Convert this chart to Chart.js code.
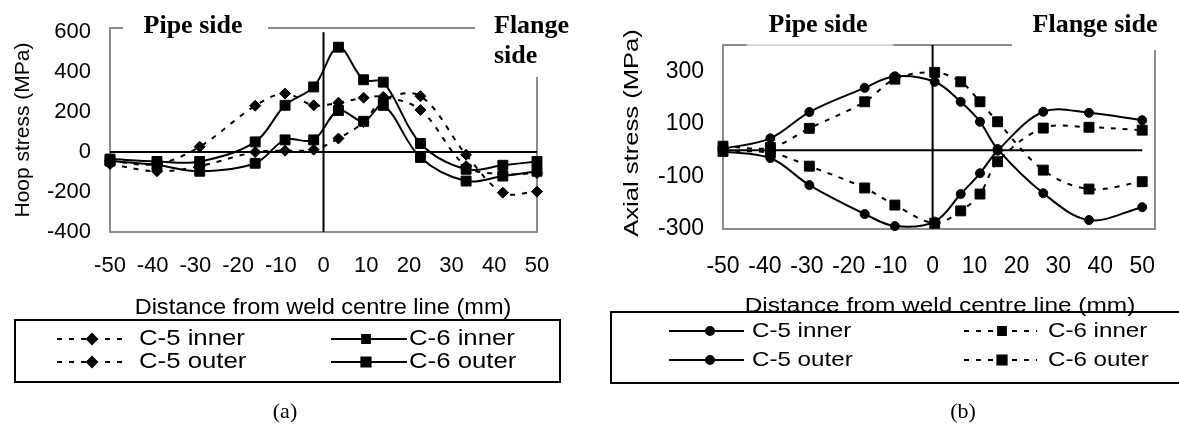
<!DOCTYPE html>
<html>
<head>
<meta charset="utf-8">
<script src="https://cdn.jsdelivr.net/npm/chart.js@4.4.1/dist/chart.umd.min.js"></script>
<style>
    html, body { margin: 0; padding: 0; background: #fff; }
    #wrap { position: relative; width: 1179px; height: 425px; }
    #wrap canvas { position: absolute; left: 0; top: 0; }
</style>
</head>
<body>
<div id="wrap">
    <canvas id="hoop" width="1179" height="425"></canvas>
    <canvas id="axial" width="1179" height="425"></canvas>
</div>
<script>
// --- данные (a) hoop stress ---
const xTicks = [-50, -40, -30, -20, -10, 0, 10, 20, 30, 40, 50];
const hoopTicks = [-400, -200, 0, 200, 400, 600];
const hoopX = [-50, -39, -29, -16, -9, -2.3, 3.5, 9.4, 14, 22.7, 33.4, 42, 50];
const hoopC5inner = [-45, -60, 27, 232, 293, 234, 247, 272, 276, 211, -71, -110, -105];
const hoopC5outer = [-60, -96, -70, 0, 7, 12, 68, 150, 262, 280, -13, -203, -198];
const hoopC6inner = [-45, -65, -96, -56, 61, 61, 208, 154, 234, -27, -145, -120, -96];
const hoopC6outer = [-35, -47, -47, 51, 234, 326, 525, 362, 350, 43, -86, -66, -47];

// --- данные (b) axial stress ---
const axialTicks = [-300, -100, 100, 300];
const axialX = [-50, -38.7, -29.4, -16.2, -9, 0.5, 6.7, 11.3, 15.5, 26.4, 37.3, 50];
const axialC5inner = [5, 45, 145, 237, 281, 260, 184, 108, 4, -164, -266, -217];
const axialC5outer = [-5, -30, -133, -243, -289, -272, -167, -88, -2, 146, 142, 114];
const axialC6inner = [15, 10, 83, 184, 270, 296, 260, 184, 108, -76, -148, -120];
const axialC6outer = [-5, -10, -61, -144, -209, -278, -231, -167, -44, 84, 87, 76];

const SANS = "'Liberation Sans', Arial, sans-serif";
const SERIF = "'Liberation Serif', 'Times New Roman', serif";
const GREY = "#8c8c8c";
const DASH = [5, 7];

function pts(xs, ys) {
    return xs.map((x, i) => ({ x: x, y: ys[i] }));
}

function series(label, xs, ys, dashed, style, radius) {
    return {
        label: label,
        data: pts(xs, ys),
        borderColor: "#000",
        backgroundColor: "#000",
        borderWidth: 2,
        borderDash: dashed ? DASH : [],
        pointStyle: style,
        pointRadius: radius,
        pointBorderWidth: 1,
        pointBackgroundColor: "#000",
        pointBorderColor: "#000",
        tension: 0.35,
        clip: false
    };
}

function line(ctx, x1, y1, x2, y2) {
    ctx.beginPath();
    ctx.moveTo(x1, y1);
    ctx.lineTo(x2, y2);
    ctx.stroke();
}

// текст с растяжением по горизонтали (в оригинале шрифт шире Arial)
function text(ctx, s, x, y, font, align, sx, rot, base) {
    ctx.save();
    ctx.translate(x, y);
    if (rot) ctx.rotate(rot);
    ctx.scale(sx || 1, 1);
    ctx.font = font;
    ctx.fillStyle = "#000";
    ctx.textAlign = align || "left";
    ctx.textBaseline = base || "alphabetic";
    ctx.fillText(s, 0, 0);
    ctx.restore();
}

function panelPlugin(p) {
    return {
        id: "panel",
        beforeDatasetsDraw(chart) {
            const ctx = chart.ctx;
            const a = chart.chartArea;
            const x0 = chart.scales.x.getPixelForValue(0);
            const y0 = chart.scales.y.getPixelForValue(0);
            ctx.save();
            p.frame.forEach(s => {
                ctx.lineWidth = s[4] || 2;
                ctx.strokeStyle = s[5] || GREY;
                line(ctx, s[0], s[1], s[2], s[3]);
            });
            ctx.strokeStyle = "#000";
            ctx.lineWidth = 2;
            line(ctx, a.left, y0, a.right, y0);
            line(ctx, x0, a.top, x0, a.bottom);
            ctx.restore();
        },
        afterDraw(chart) {
            const ctx = chart.ctx;
            ctx.save();
            // рамка легенды
            ctx.strokeStyle = "#000";
            ctx.lineWidth = 2;
            p.box.forEach(s => line(ctx, s[0], s[1], s[2], s[3]));
            // подписи
            p.texts.forEach(t => text(ctx, t.s, t.x, t.y, t.font, t.align, t.sx, t.rot, t.base));
            // элементы легенды
            p.legend.forEach(it => {
                const ds = chart.data.datasets[it.ds];
                ctx.strokeStyle = "#000";
                ctx.fillStyle = "#000";
                ctx.lineWidth = 2;
                ctx.setLineDash(ds.borderDash);
                line(ctx, it.x1, it.y, it.x2, it.y);
                ctx.setLineDash([]);
                Chart.helpers.drawPoint(ctx, {
                    pointStyle: ds.pointStyle, radius: it.r, rotation: 0, borderWidth: 1
                }, it.mx, it.y);
                text(ctx, ds.label, it.tx, it.y, it.font, "left", it.sx, 0, "middle");
            });
            ctx.restore();
        }
    };
}

function makeChart(id, p) {
    new Chart(document.getElementById(id), {
        type: "line",
        data: { datasets: p.datasets },
        options: {
            responsive: false,
            animation: false,
            devicePixelRatio: 1,
            events: [],
            layout: { padding: p.padding },
            plugins: { legend: { display: false }, tooltip: { enabled: false } },
            scales: {
                x: {
                    type: "linear",
                    min: -50,
                    max: 50,
                    afterBuildTicks: s => { s.ticks = xTicks.map(v => ({ value: v })); },
                    afterFit: s => { s.height = 60; },
                    grid: { display: false, drawTicks: false },
                    border: { display: false },
                    ticks: {
                        color: "#000",
                        font: { family: SANS, size: p.tickSize },
                        padding: p.xPad,
                        maxRotation: 0,
                        autoSkip: false
                    }
                },
                y: {
                    type: "linear",
                    min: p.yMin,
                    max: p.yMax,
                    afterBuildTicks: s => { s.ticks = p.yTicks.map(v => ({ value: v })); },
                    afterFit: s => { s.width = p.yWidth; },
                    grid: { display: false, drawTicks: false },
                    border: { display: false },
                    ticks: {
                        color: "#000",
                        font: { family: SANS, size: p.tickSize },
                        padding: 19
                    }
                }
            }
        },
        plugins: [panelPlugin(p)]
    });
}

const bold26 = "bold 26px " + SERIF;

// (a) Hoop stress
makeChart("hoop", {
    datasets: [
        series("C-5 inner", hoopX, hoopC5inner, true, "rectRot", 5.5),
        series("C-6 inner", hoopX, hoopC6inner, false, "rect", 7),
        series("C-5 outer", hoopX, hoopC5outer, true, "rectRot", 5.5),
        series("C-6 outer", hoopX, hoopC6outer, false, "rect", 7)
    ],
    padding: { left: 0, top: 28, right: 642, bottom: 425 - 232 - 60 },
    yWidth: 110,
    yMin: -400, yMax: 600, yTicks: hoopTicks,
    tickSize: 22, xPad: 21,
    frame: [
        [110, 28, 110, 233], [109, 232, 538, 232], [537, 77, 537, 233],
        [109, 28, 123, 28], [268, 28, 475, 28]
    ],
    box: [[15, 320, 560, 320], [15, 382, 560, 382], [15, 319, 15, 383], [560, 319, 560, 383]],
    texts: [
        { s: "Hoop stress (MPa)", x: 23, y: 130, font: "21px " + SANS, align: "center", rot: -Math.PI / 2, base: "middle" },
        { s: "Distance from weld centre line (mm)", x: 323, y: 314, font: "22px " + SANS, align: "center", sx: 1.07 },
        { s: "Pipe side", x: 193, y: 33, font: bold26, align: "center" },
        { s: "Flange", x: 494, y: 33, font: bold26, align: "left" },
        { s: "side", x: 494, y: 63, font: bold26, align: "left" },
        { s: "(a)", x: 285, y: 418, font: "22px " + SERIF, align: "center" }
    ],
    legend: [
        { ds: 0, x1: 57, x2: 124, mx: 92, tx: 139, y: 339, r: 5, font: "22px " + SANS, sx: 1.17 },
        { ds: 1, x1: 331, x2: 407, mx: 366, tx: 409, y: 339, r: 5.5, font: "22px " + SANS, sx: 1.17 },
        { ds: 2, x1: 57, x2: 124, mx: 92, tx: 139, y: 362, r: 5, font: "22px " + SANS, sx: 1.17 },
        { ds: 3, x1: 331, x2: 407, mx: 366, tx: 409, y: 362, r: 6.5, font: "22px " + SANS, sx: 1.17 }
    ]
});

// (b) Axial stress
makeChart("axial", {
    datasets: [
        series("C-5 inner", axialX, axialC5inner, false, "circle", 4.5),
        series("C-6 inner", axialX, axialC6inner, true, "rect", 7),
        series("C-5 outer", axialX, axialC5outer, false, "circle", 4.5),
        series("C-6 outer", axialX, axialC6outer, true, "rect", 7)
    ],
    padding: { left: 600, top: 45, right: 24, bottom: 425 - 229 - 60 },
    yWidth: 123,
    yMin: -300, yMax: 400, yTicks: axialTicks,
    tickSize: 23, xPad: 24,
    frame: [
        [723, 44, 723, 230], [722, 229, 1156, 229], [1155, 50, 1155, 230],
        [722, 45, 747, 45], [747, 45, 893, 45, 1, "#b5b5b5"], [893, 45, 1012, 45]
    ],
    box: [[611, 312, 1179, 312], [611, 383, 1179, 383], [611, 311, 611, 384]],
    texts: [
        { s: "Axial stress (MPa)", x: 632, y: 133, font: "20px " + SANS, align: "center", sx: 1.28, rot: -Math.PI / 2, base: "middle" },
        { s: "Pipe side", x: 818, y: 32, font: bold26, align: "center" },
        { s: "Flange side", x: 1095, y: 32, font: bold26, align: "center" },
        { s: "Distance from weld centre line (mm)", x: 940, y: 312, font: "20px " + SANS, align: "center", sx: 1.22 },
        { s: "(b)", x: 963, y: 418, font: "22px " + SERIF, align: "center" }
    ],
    legend: [
        { ds: 0, x1: 669, x2: 744, mx: 710, tx: 752, y: 331, r: 4, font: "21px " + SANS, sx: 1.15 },
        { ds: 1, x1: 964, x2: 1037, mx: 1002, tx: 1048, y: 331, r: 5.5, font: "21px " + SANS, sx: 1.15 },
        { ds: 2, x1: 669, x2: 744, mx: 710, tx: 752, y: 360, r: 4, font: "21px " + SANS, sx: 1.15 },
        { ds: 3, x1: 964, x2: 1037, mx: 1002, tx: 1048, y: 360, r: 6.5, font: "21px " + SANS, sx: 1.15 }
    ]
});
</script>
</body>
</html>
